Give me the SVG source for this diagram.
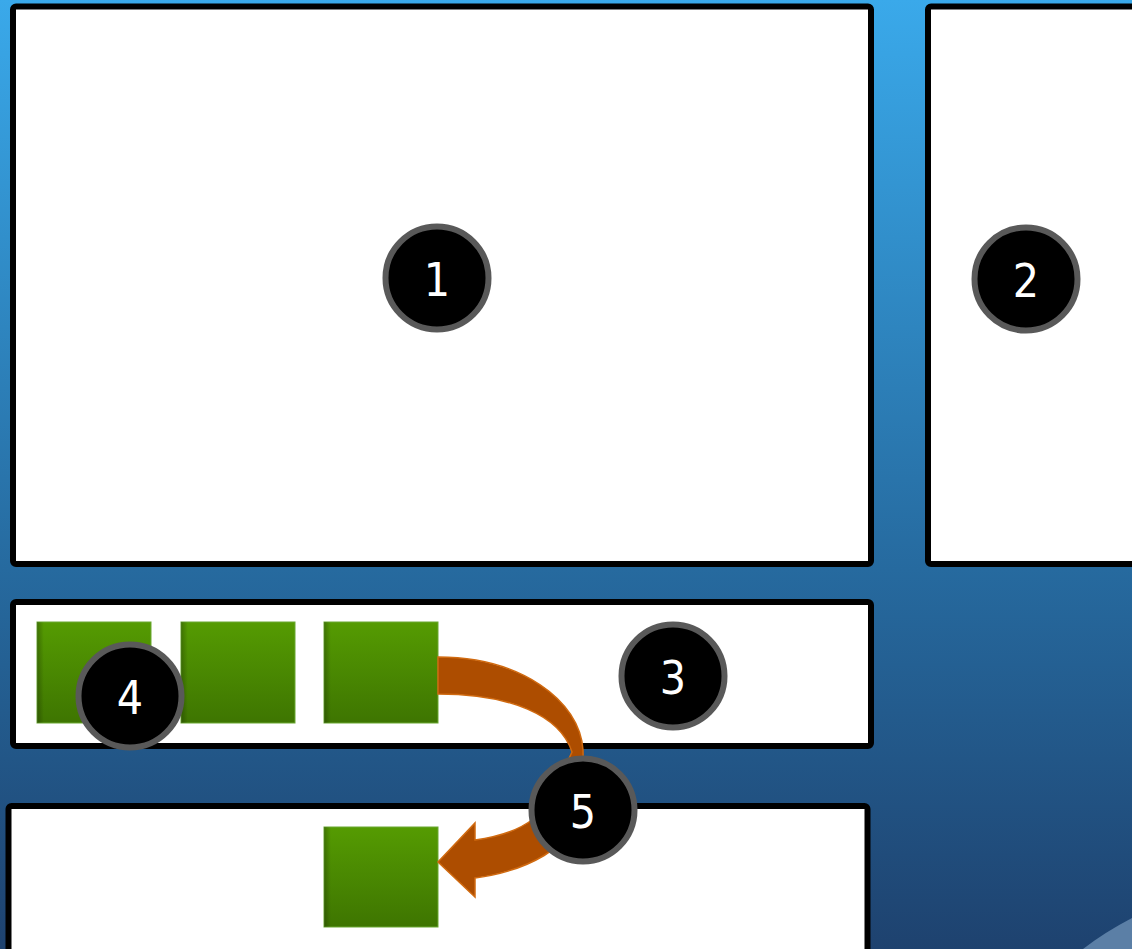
<svg xmlns="http://www.w3.org/2000/svg" width="1132" height="949" viewBox="0 0 1132 949">
<defs>
<linearGradient id="bg" x1="0" y1="0" x2="0" y2="1">
<stop offset="0" stop-color="#3aa9ea"/>
<stop offset="0.25" stop-color="#318fcb"/>
<stop offset="0.6" stop-color="#266a9f"/>
<stop offset="1" stop-color="#1e426f"/>
</linearGradient>
<linearGradient id="green" x1="0" y1="0" x2="0" y2="1">
<stop offset="0" stop-color="#559b02"/>
<stop offset="1" stop-color="#3e7501"/>
</linearGradient>
<linearGradient id="greenEdge" x1="0" y1="0" x2="1" y2="0">
<stop offset="0" stop-color="#000" stop-opacity="0.25"/>
<stop offset="0.06" stop-color="#000" stop-opacity="0"/>
</linearGradient>
<style>
.panel{fill:#fff;stroke:#000;stroke-width:6}
.sq{fill:url(#green);stroke:#6aa832;stroke-width:1}
.badge{fill:#000;stroke:#595959;stroke-width:6}
.num{fill:#fff;font-family:"DejaVu Sans Condensed","DejaVu Sans",sans-serif;font-size:46px;text-anchor:middle}
.arrow{fill:#ad4d00;stroke:#d06a10;stroke-width:1.5}
</style>
</defs>
<rect width="1132" height="949" fill="url(#bg)"/>
<path d="M1083 949 Q1105 932 1132 918 L1132 949 Z" fill="#5b7fa6"/>
<g id="panel1"><rect class="panel" x="13" y="6.5" width="858" height="557.5" rx="3"/></g>
<g id="panel2"><rect class="panel" x="928" y="6.5" width="260" height="557.5" rx="3"/></g>
<g id="panel3"><rect class="panel" x="13" y="602" width="858" height="144" rx="3"/></g>
<g id="panel4"><rect class="panel" x="8.5" y="806" width="859" height="170" rx="3"/></g>
<g id="squares">
<rect class="sq" x="37" y="622" width="114" height="101"/>
<rect fill="url(#greenEdge)" x="37" y="622" width="114" height="101"/>
<rect class="sq" x="181" y="622" width="114" height="101"/>
<rect fill="url(#greenEdge)" x="181" y="622" width="114" height="101"/>
<rect class="sq" x="324" y="622" width="114" height="101"/>
<rect fill="url(#greenEdge)" x="324" y="622" width="114" height="101"/>
<rect class="sq" x="324" y="827" width="114" height="100"/>
<rect fill="url(#greenEdge)" x="324" y="827" width="114" height="100"/>
</g>
<g id="connectors">
<path class="arrow" d="M438 657 C520 657 580 700 583 750 L584 800 C578 850 520 872 475 878 L475 897 L438 862 L475 823 L475 840 C505 836 535 826 550 800 L572 752 C560 715 510 694 438 694 Z"/>
</g>
<g id="badge1"><circle class="badge" cx="437" cy="278" r="51.5"/><text class="num" x="437" y="296">1</text></g>
<g id="badge2"><circle class="badge" cx="1026" cy="279" r="51.5"/><text class="num" x="1026" y="297">2</text></g>
<g id="badge3"><circle class="badge" cx="673" cy="676" r="51.5"/><text class="num" x="673" y="694">3</text></g>
<g id="badge4"><circle class="badge" cx="130" cy="696" r="51.5"/><text class="num" x="130" y="714">4</text></g>
<g id="badge5"><circle class="badge" cx="583" cy="810" r="51.5"/><text class="num" x="583" y="828">5</text></g>
</svg>
